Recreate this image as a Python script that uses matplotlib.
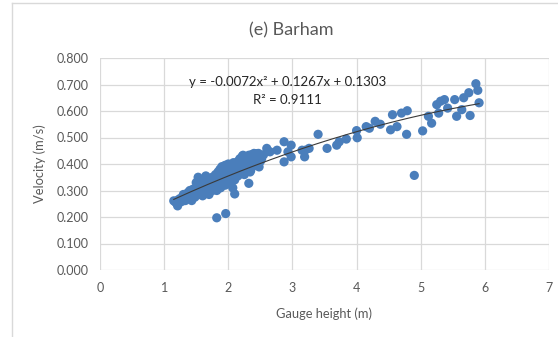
import matplotlib
matplotlib.use("Agg")
import matplotlib.pyplot as plt
from matplotlib.lines import Line2D
import numpy as np

plt.rcParams['font.family'] = ['Lato', 'DejaVu Sans']

# Gauge height (m) and velocity (m/s) observations
gauge_height = [
    1.15, 1.21, 1.18, 1.22, 1.25, 1.27, 1.30, 1.30, 1.33, 1.35, 1.37, 1.38, 1.40, 1.42,
    1.43, 1.45, 1.46, 1.48, 1.50, 1.50, 1.52, 1.53, 1.55, 1.56, 1.58, 1.58, 1.60, 1.60,
    1.62, 1.63, 1.65, 1.65, 1.67, 1.68, 1.70, 1.70, 1.72, 1.73, 1.75, 1.75, 1.77, 1.78,
    1.80, 1.80, 1.82, 1.82, 1.84, 1.85, 1.86, 1.87, 1.88, 1.88, 1.90, 1.90, 1.91, 1.92,
    1.93, 1.94, 1.95, 1.95, 1.96, 1.97, 1.98, 1.99, 2.00, 2.00, 2.01, 2.02, 2.03, 2.04,
    2.05, 2.06, 2.07, 2.08, 2.08, 2.10, 2.10, 2.12, 2.13, 2.15, 2.15, 2.17, 2.18, 2.20,
    2.20, 2.22, 2.23, 2.25, 2.26, 2.28, 2.30, 2.32, 2.34, 2.36, 2.38, 2.40, 2.42, 2.45,
    2.47, 2.50, 2.52, 2.55,
    1.82, 1.96, 2.10, 2.32, 2.35, 2.23, 2.32, 2.43, 2.48, 2.60, 2.65, 2.76, 2.87, 2.87,
    2.93, 2.98, 2.98, 3.15, 3.19, 3.20, 3.26, 3.40, 3.54, 3.69, 3.73, 3.84, 4.00, 4.01,
    4.15, 4.20, 4.29, 4.37, 4.53, 4.56, 4.63, 4.70, 4.78, 4.79, 4.90, 5.03, 5.12, 5.17,
    5.25, 5.28, 5.31, 5.37, 5.42, 5.53, 5.56, 5.64, 5.67, 5.75, 5.77, 5.86, 5.89, 5.91,
]
velocity = [
    0.261, 0.242, 0.255, 0.265, 0.270, 0.258, 0.275, 0.285, 0.262, 0.280, 0.292, 0.270, 0.300, 0.285,
    0.262, 0.305, 0.290, 0.275, 0.310, 0.330, 0.295, 0.350, 0.315, 0.285, 0.325, 0.300, 0.340, 0.280,
    0.310, 0.295, 0.330, 0.355, 0.320, 0.300, 0.345, 0.285, 0.330, 0.310, 0.350, 0.300, 0.325, 0.340,
    0.360, 0.315, 0.350, 0.300, 0.370, 0.335, 0.320, 0.380, 0.355, 0.310, 0.390, 0.345, 0.365, 0.330,
    0.375, 0.350, 0.395, 0.320, 0.360, 0.385, 0.340, 0.370, 0.400, 0.355, 0.330, 0.385, 0.365, 0.345,
    0.395, 0.375, 0.310, 0.405, 0.355, 0.385, 0.340, 0.400, 0.370, 0.410, 0.355, 0.390, 0.420, 0.375,
    0.405, 0.430, 0.395, 0.360, 0.415, 0.385, 0.425, 0.400, 0.370, 0.435, 0.410, 0.440, 0.395, 0.425,
    0.440, 0.410, 0.420, 0.435,
    0.197, 0.213, 0.287, 0.327, 0.376, 0.433, 0.433, 0.439, 0.389, 0.459, 0.446, 0.452, 0.484, 0.408,
    0.446, 0.471, 0.427, 0.452, 0.427, 0.452, 0.459, 0.512, 0.459, 0.471, 0.484, 0.494, 0.526, 0.499,
    0.541, 0.535, 0.561, 0.550, 0.529, 0.586, 0.541, 0.592, 0.512, 0.601, 0.357, 0.525, 0.580, 0.554,
    0.624, 0.592, 0.637, 0.643, 0.611, 0.643, 0.580, 0.605, 0.650, 0.669, 0.583, 0.703, 0.678, 0.631,
]

# Polynomial trendline (order 2) coefficients
trend_coef = [-0.0072, 0.1267, 0.1303]
r_squared = 0.9111

x_ticks = [0, 1, 2, 3, 4, 5, 6, 7]
y_ticks = [0.0, 0.1, 0.2, 0.3, 0.4, 0.5, 0.6, 0.7, 0.8]

text_color = '#595959'
grid_color = '#d9d9d9'
marker_color = '#4a7ebb'

fig = plt.figure(figsize=(5.58, 3.37), dpi=100)
ax = fig.add_axes([100 / 558, 1 - 270 / 337, 449 / 558, 212 / 337])

ax.scatter(gauge_height, velocity, s=44, color=marker_color, edgecolors='none', zorder=3)

xs = np.linspace(min(gauge_height), max(gauge_height), 200)
ax.plot(xs, np.polyval(trend_coef, xs), color='#3a3a3a', linewidth=0.8, zorder=4)

ax.text(2.92, 0.711,
        'y = -0.0072x\u00b2 + 0.1267x + 0.1303',
        ha='center', va='center', fontsize=9.5, color='#262626', zorder=5)
ax.text(2.92, 0.641, 'R\u00b2 = %.4f' % r_squared,
        ha='center', va='center', fontsize=9.5, color='#262626', zorder=5)

ax.set_xlim(0, 7)
ax.set_ylim(0, 0.8)
ax.set_xticks(x_ticks)
ax.set_yticks(y_ticks)
ax.set_yticklabels(['%.3f' % v for v in y_ticks])
ax.grid(True, color=grid_color, linewidth=0.9)
ax.set_axisbelow(True)
for sp in ax.spines.values():
    sp.set_visible(False)
ax.tick_params(length=0, labelsize=9, labelcolor=text_color)
ax.tick_params(axis='y', pad=8)
ax.tick_params(axis='x', pad=9)

ax.set_xlabel('Gauge height (m)', fontsize=9.3, color=text_color, labelpad=9)
ax.set_ylabel('Velocity (m/s)', fontsize=9.3, color=text_color, labelpad=8)
fig.text(291 / 558, 1 - 30 / 337, '(e) Barham', fontsize=13, color=text_color,
         ha='center', va='center')

# chart area frame
fig.add_artist(Line2D([12 / 558, 12 / 558], [0, 1 - 3 / 337], transform=fig.transFigure,
                      color=grid_color, linewidth=1))
fig.add_artist(Line2D([12 / 558, 1], [1 - 3 / 337, 1 - 3 / 337], transform=fig.transFigure,
                      color=grid_color, linewidth=1))

fig.savefig('out.png', dpi=100)
